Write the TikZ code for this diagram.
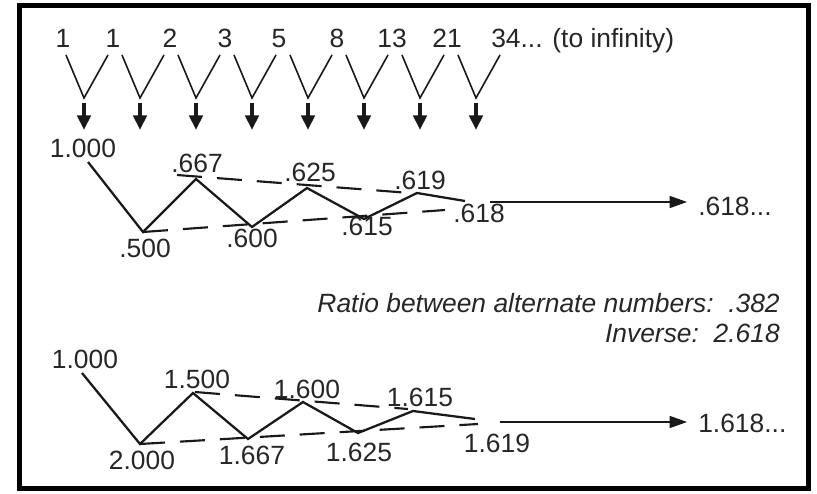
\documentclass[tikz,border=0pt]{standalone}
\usepackage{fontspec}
\setmainfont{Liberation Sans}
\usetikzlibrary{arrows.meta}
\begin{document}
\begin{tikzpicture}[x=0.75pt,y=-0.75pt,
  lbl/.style={font=\fontsize{19.8}{22}\selectfont, inner sep=0pt, text=black!85},
  ital/.style={lbl, font=\fontsize{19.8}{22}\selectfont\itshape},
  zig/.style={line width=1.7pt, line join=miter, black!90},
  dsh/.style={line width=1.6pt, dash pattern=on 18.75pt off 11.25pt, black!90},
  vee/.style={line width=1.2pt, black!90},
  downarr/.style={line width=3pt, black!90, -{Triangle[length=11pt,width=10pt]}},
  limarr/.style={line width=1.1pt, black!90, -{Triangle[length=13pt,width=9pt]}},
]
\useasboundingbox (0,0) rectangle (817,493);
\draw[line width=3.75pt] (19,5) rectangle (808,488);

% Fibonacci numbers
\foreach \n/\x [count=\i] in {1/63,1/113,2/170,3/225,5/279,8/337,13/392,21/447}
  \node[lbl] (f\i) at (\x,38.5) {\n};
\node[lbl, anchor=base west] (f9) at (491,47) {34... (to infinity)};

% V shapes and thick arrows
\foreach \i in {1,...,8} {
  \pgfmathsetmacro{\a}{84+56*(\i-1)}
  \coordinate (vl\i) at (\a-18,55);
  \coordinate (va\i) at (\a,98);
  \coordinate (vr\i) at (\a+24,55);
  \coordinate (ds\i) at (\a,103);
  \coordinate (de\i) at (\a,130);
  \draw[vee] (vl\i) -- (va\i) -- (vr\i);
  \draw[downarr] (ds\i) -- (de\i);
}

% Top zigzag (ratios)
\coordinate (p0) at (88,162);
\coordinate (p1) at (143,232);
\coordinate (p2) at (196,179);
\coordinate (p3) at (252,227);
\coordinate (p4) at (307,188);
\coordinate (p5) at (364,219);
\coordinate (p6) at (417,193);
\coordinate (p7) at (465,201);
\draw[zig] (p0) -- (p1) -- (p2) -- (p3) -- (p4) -- (p5) -- (p6) -- (p7);
\coordinate (u1) at (177,175);
\coordinate (u2) at (410,193);
\draw[dsh] (u1) -- (u2);
\coordinate (l1) at (143,232);
\coordinate (l2) at (445,210);
\draw[dsh] (l1) -- (l2);

\node[lbl] (t0) at (83,148) {1.000};
\node[lbl] (t1) at (145,248) {.500};
\node[lbl] (t2) at (197,163) {.667};
\node[lbl] (t3) at (252,238) {.600};
\node[lbl] (t4) at (310,172) {.625};
\node[lbl] (t5) at (367,226) {.615};
\node[lbl] (t6) at (420,180) {.619};
\node[lbl] (t7) at (479,213) {.618};

\coordinate (a1s) at (490,202);
\coordinate (a1e) at (687,202);
\draw[limarr] (a1s) -- (a1e);
\node[lbl, anchor=west] (lim1) at (698,206) {.618...};

% Italic notes
\node[ital, anchor=base east] (r1) at (780,312) {Ratio between alternate numbers:\ \ .382};
\node[ital, anchor=base east] (r2) at (780,342) {Inverse:\ \ 2.618};

% Bottom zigzag (inverse ratios)
\coordinate (q0) at (82,373);
\coordinate (q1) at (140,444);
\coordinate (q2) at (193,393);
\coordinate (q3) at (248,439);
\coordinate (q4) at (303,402);
\coordinate (q5) at (358,433);
\coordinate (q6) at (413,411);
\coordinate (q7) at (475,419);
\draw[zig] (q0) -- (q1) -- (q2) -- (q3) -- (q4) -- (q5) -- (q6) -- (q7);
\coordinate (bu1) at (195,392);
\coordinate (bu2) at (408,409);
\draw[dsh] (bu1) -- (bu2);
\coordinate (bl1) at (140,444);
\coordinate (bl2) at (478,424);
\draw[dsh] (bl1) -- (bl2);

\node[lbl] (b0) at (85,359) {1.000};
\node[lbl] (b1) at (142,460) {2.000};
\node[lbl] (b2) at (197,379) {1.500};
\node[lbl] (b3) at (252,455) {1.667};
\node[lbl] (b4) at (307,389) {1.600};
\node[lbl] (b5) at (359,452) {1.625};
\node[lbl] (b6) at (420,397) {1.615};
\node[lbl] (b7) at (497,443) {1.619};

\coordinate (a2s) at (500,422);
\coordinate (a2e) at (687,422);
\draw[limarr] (a2s) -- (a2e);
\node[lbl, anchor=west] (lim2) at (698,423) {1.618...};
\end{tikzpicture}
\end{document}
